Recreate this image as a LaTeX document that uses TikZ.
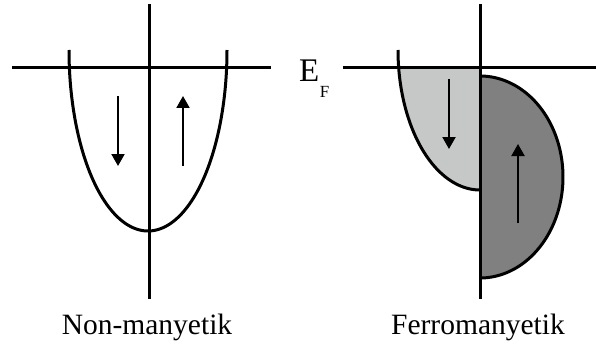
\documentclass[tikz,border=0pt]{standalone}
\usepackage{fontspec}
\setmainfont{Liberation Serif}
\usetikzlibrary{arrows.meta}
\definecolor{lightfill}{RGB}{198,200,200}
\definecolor{darkfill}{RGB}{128,128,128}
\begin{document}
\begin{tikzpicture}[x=1pt,y=-1pt,
  axis/.style={line width=3pt},
  band/.style={line width=3pt},
  spin/.style={line width=2pt,-{Triangle[width=13pt,length=12pt]}},
  label/.style={anchor=base,inner sep=0pt,font=\fontsize{29.5}{29.5}\selectfont}]
\useasboundingbox (0,0) rectangle (596,350);
% ---------- left: non-magnetic ----------
\draw[band] plot[domain=180:360,samples=90,smooth] ({148+79*cos(\x)},{50-181*sin(\x)});
\draw[axis] (12,68) -- (271,68);
\draw[axis] (149,4) -- (149,299);
\coordinate (ld1) at (118,96);  \coordinate (ld2) at (118,166);
\coordinate (lu1) at (183,166); \coordinate (lu2) at (183,96);
\draw[spin] (ld1) -- (ld2);
\draw[spin] (lu1) -- (lu2);
\node[label] (nm) at (147,334) {Non-manyetik};
% ---------- right: ferromagnetic ----------
\fill[lightfill] plot[domain=187.39:270,samples=60,smooth] ({480+82*cos(\x)},{50-140*sin(\x)}) -- (480,68) -- cycle;
\draw[band] plot[domain=180:270,samples=60,smooth] ({480+82*cos(\x)},{50-140*sin(\x)});
\fill[darkfill] plot[domain=90:-90,samples=90,smooth] ({480+83*cos(\x)},{177-101*sin(\x)}) -- cycle;
\draw[band] plot[domain=90:-90,samples=90,smooth] ({480+83*cos(\x)},{177-101*sin(\x)});
\draw[axis] (343,68) -- (596,68);
\draw[axis] (480,4) -- (480,299);
\coordinate (rd1) at (449,79);  \coordinate (rd2) at (449,149);
\coordinate (ru1) at (518,223); \coordinate (ru2) at (518,144);
\draw[spin] (rd1) -- (rd2);
\draw[spin] (ru1) -- (ru2);
\node[anchor=base west,inner sep=0pt,font=\fontsize{33}{33}\selectfont] (ef) at (299,82) {E\kern0.5pt\raisebox{-16pt}{\fontsize{17}{17}\selectfont F}};
\node[label] (fm) at (478,334) {Ferromanyetik};
\end{tikzpicture}
\end{document}
